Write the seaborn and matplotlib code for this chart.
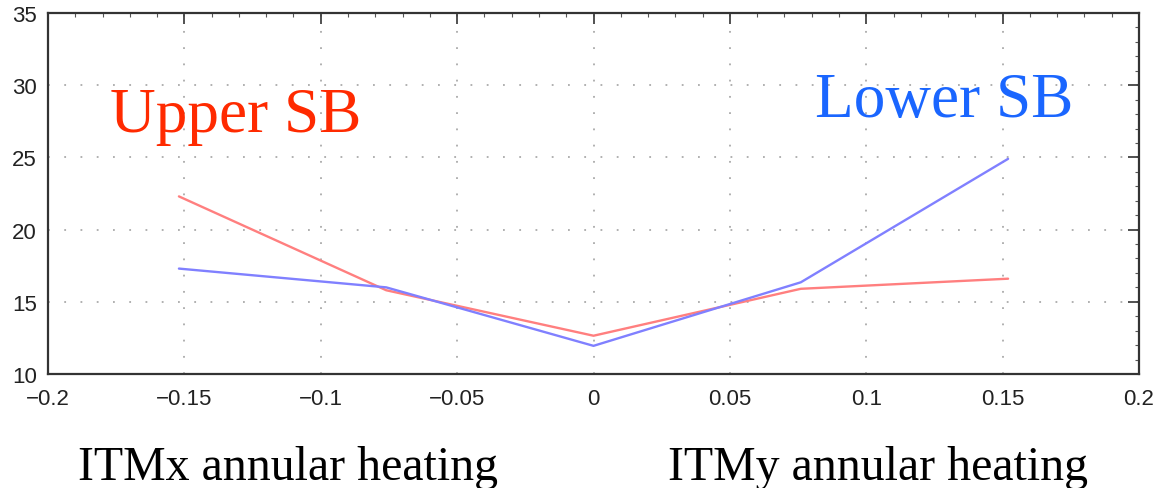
import matplotlib
matplotlib.use("Agg")
import matplotlib.pyplot as plt
import seaborn as sns
import pandas as pd
from matplotlib.ticker import MultipleLocator

# Heating offsets and the resulting sideband values
heating = [-0.152, -0.076, 0.0, 0.076, 0.152]
upper_sb = [22.3, 15.8, 12.65, 15.9, 16.6]
lower_sb = [17.3, 16.0, 11.95, 16.35, 24.9]

x_ticks = [-0.2, -0.15, -0.1, -0.05, 0, 0.05, 0.1, 0.15, 0.2]
x_tick_labels = ["\u22120.2", "\u22120.15", "\u22120.1", "\u22120.05", "0", "0.05", "0.1", "0.15", "0.2"]
y_ticks = [10, 15, 20, 25, 30, 35]

df = pd.DataFrame({
    "heating": heating * 2,
    "value": upper_sb + lower_sb,
    "band": ["Upper SB"] * len(heating) + ["Lower SB"] * len(heating),
})

sns.set_style("white")
plt.rcParams["font.family"] = ["Liberation Sans", "DejaVu Sans"]

fig = plt.figure(figsize=(11.57, 4.89), dpi=100)
ax = fig.add_axes([48 / 1157, 1 - 375 / 489, (1139 - 48) / 1157, (375 - 14) / 489])

sns.lineplot(data=df, x="heating", y="value", hue="band",
             palette={"Upper SB": "#ff7f7f", "Lower SB": "#8080ff"},
             linewidth=1.7, legend=False, ax=ax, sort=False)

ax.set_xlim(-0.2, 0.2)
ax.set_ylim(10, 35)
ax.set_xticks(x_ticks)
ax.set_xticklabels(x_tick_labels)
ax.set_yticks(y_ticks)
ax.xaxis.set_minor_locator(MultipleLocator(0.01))
ax.yaxis.set_minor_locator(MultipleLocator(1))
ax.set_xlabel("")
ax.set_ylabel("")

ax.grid(True, which="major", linestyle=(0, (1, 8)), color="#aaaaaa", linewidth=1.3)
ax.tick_params(which="major", direction="in", length=8, width=1.2, top=True, right=True,
               labelsize=16, colors="#333333", labelcolor="#222222")
ax.tick_params(axis="x", pad=10)
ax.tick_params(axis="y", pad=8)
ax.tick_params(which="minor", direction="in", length=3, width=0.8, top=True, right=True,
               colors="#555555")
for side in ax.spines.values():
    side.set_visible(True)
    side.set_color("#333333")
    side.set_linewidth(1.6)

serif = ["Liberation Serif", "DejaVu Serif"]
fig.text(110 / 1157, 1 - 132 / 489, "Upper SB", color="#ff2a00", fontsize=45.5,
         family=serif, va="baseline", ha="left")
fig.text(815 / 1157, 1 - 117 / 489, "Lower SB", color="#1a66ff", fontsize=45.5,
         family=serif, va="baseline", ha="left")
fig.text(78 / 1157, 1 - 480 / 489, "ITMx annular heating", color="black", fontsize=34.5,
         family=serif, va="baseline", ha="left")
fig.text(668 / 1157, 1 - 480 / 489, "ITMy annular heating", color="black", fontsize=34.5,
         family=serif, va="baseline", ha="left")

fig.savefig("out.png", dpi=100)
